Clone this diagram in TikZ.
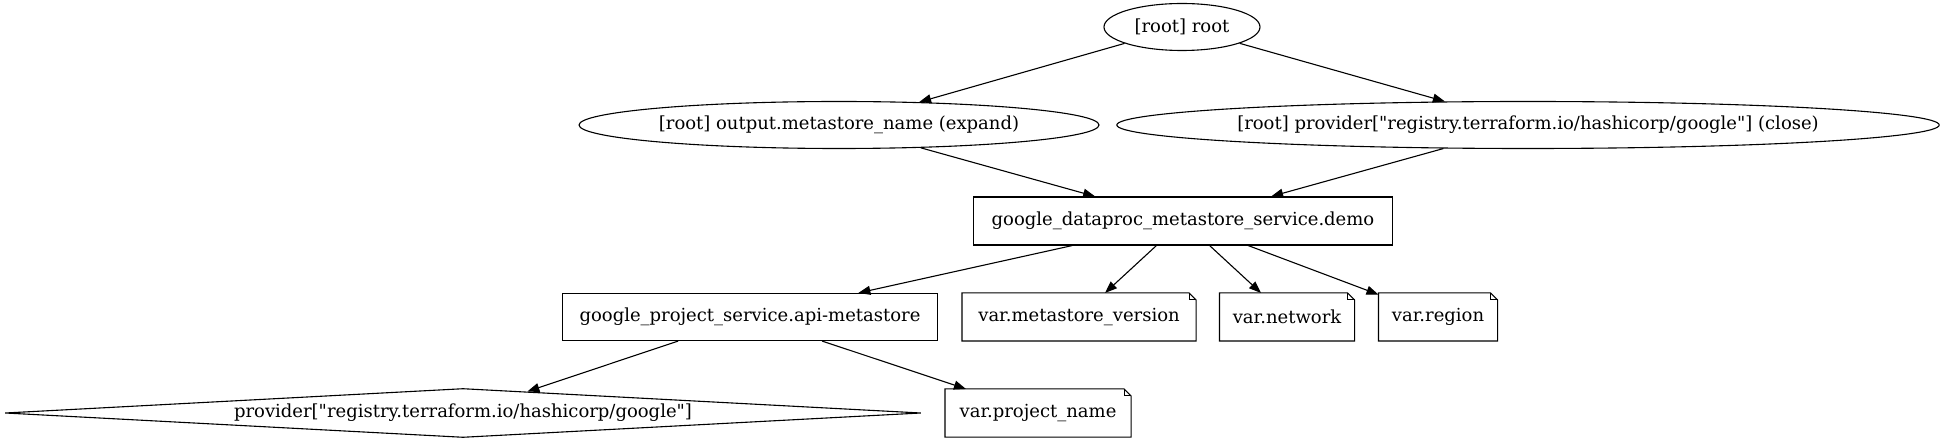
\documentclass[tikz,border=0pt]{standalone}
\usepackage{fontspec}
\setmainfont{DejaVu Serif}[Ligatures=TeXOff]
\usetikzlibrary{shapes.geometric, arrows.meta}

\tikzset{
	res/.style={rectangle, draw, minimum height=48pt},
	note/.style={rectangle, minimum height=47pt, append after command={\pgfextra{
		\draw (\tikzlastnode.north west) -- ([xshift=-7pt]\tikzlastnode.north east) -- ([yshift=-7pt]\tikzlastnode.north east) -- (\tikzlastnode.south east) -- (\tikzlastnode.south west) -- cycle;
		\draw ([xshift=-7pt]\tikzlastnode.north east) |- ([yshift=-7pt]\tikzlastnode.north east);
	}}},
	oval/.style={ellipse, draw, inner sep=0pt, minimum height=47pt},
	dep/.style={-{Triangle[length=12pt,width=9pt]}}
}

\begin{document}
\begin{tikzpicture}[x=1pt, y=-1pt, line width=1.1pt, every node/.style={font=\fontsize{18}{21}\selectfont}]

	\useasboundingbox (0,0) rectangle (1941,443);

	\node[oval, minimum width=156pt] (root) at (1182,27) {[root] root};
	\node[oval, minimum width=520pt] (outname) at (839,125) {[root] output.metastore\_name (expand)};
	\node[oval, minimum width=813pt] (provclose) at (1528,125) {[root] provider["registry.terraform.io/hashicorp/google"] (close)};

	\node[res, minimum width=419pt] (demo) at (1183,221) {google\_dataproc\_metastore\_service.demo};

	\node[res, minimum width=375pt, minimum height=47pt] (apims) at (750,317) {google\_project\_service.api-metastore};
	\node[note, minimum width=233pt] (msversion) at (1079,317) {var.metastore\_version};
	\node[note, minimum width=134pt] (network) at (1287,317) {var.network};
	\node[note, minimum width=118pt] (region) at (1438,317) {var.region};

	\node[diamond, draw, aspect=18, inner sep=0pt, minimum width=916pt, minimum height=49pt] (provider) at (463,413) {provider["registry.terraform.io/hashicorp/google"]};
	\node[note, minimum width=185pt] (projname) at (1038,413) {var.project\_name};

	\draw[dep] (root) -- (outname);
	\draw[dep] (root) -- (provclose);
	\draw[dep] (outname) -- (demo);
	\draw[dep] (provclose) -- (demo);
	\draw[dep] (demo) -- (apims);
	\draw[dep] (demo) -- (msversion);
	\draw[dep] (demo) -- (network);
	\draw[dep] (demo) -- (region);
	\draw[dep] (apims) -- (provider);
	\draw[dep] (apims) -- (projname);

\end{tikzpicture}
\end{document}
